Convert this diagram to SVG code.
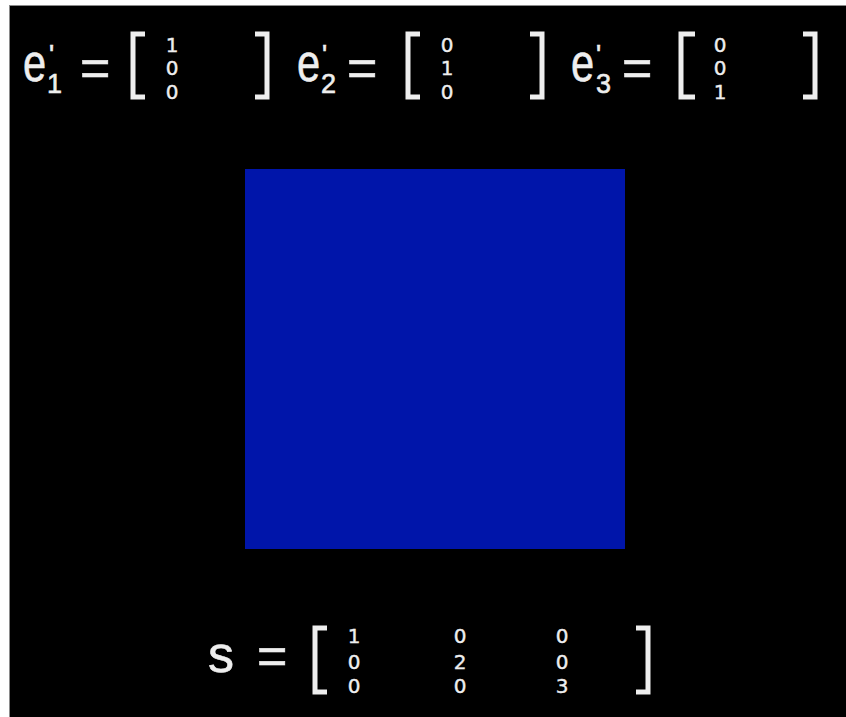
<svg xmlns="http://www.w3.org/2000/svg" width="846" height="717" viewBox="0 0 846 717">
<style>
.t{font-family:"Liberation Sans","DejaVu Sans",Arial,sans-serif;fill:#eeeeee;stroke:#eeeeee;stroke-width:0.6}
.big{font-size:52px}
.sub{font-size:27px}
.d{font-family:"DejaVu Sans","Liberation Sans",sans-serif;font-size:20px;text-anchor:middle;stroke-width:0.4}
.br{fill:none;stroke:#eeeeee;stroke-width:5;stroke-linecap:butt}
</style>
<rect x="0" y="0" width="846" height="717" fill="#ffffff"/>
<rect x="9.5" y="5.5" width="840" height="715" fill="#000000" stroke="#8a8a8a" stroke-width="1"/>
<g id="square"><rect x="245" y="169" width="380" height="380" fill="#0015aa"/></g>

<g id="e1">
<text class="t big" x="23" y="81" transform="translate(23 0) scale(0.8 1) translate(-23 0)">e</text>
<text class="t sub" x="49" y="64">'</text>
<text class="t sub" x="47" y="93">1</text>
<text class="t big" x="80" y="86">=</text>
<path class="br" d="M145,34 H133 V97 H145"/>
<text class="t d" x="172" y="52">1</text>
<text class="t d" x="172" y="75">0</text>
<text class="t d" x="172" y="99">0</text>
<path class="br" d="M255,34 H267 V97 H255"/>
</g>

<g id="e2">
<text class="t big" x="297" y="81" transform="translate(297 0) scale(0.8 1) translate(-297 0)">e</text>
<text class="t sub" x="322" y="64">'</text>
<text class="t sub" x="321" y="93">2</text>
<text class="t big" x="347" y="86">=</text>
<path class="br" d="M420,34 H408 V97 H420"/>
<text class="t d" x="447" y="52">0</text>
<text class="t d" x="447" y="75">1</text>
<text class="t d" x="447" y="99">0</text>
<path class="br" d="M530,34 H542 V97 H530"/>
</g>

<g id="e3">
<text class="t big" x="571" y="81" transform="translate(571 0) scale(0.8 1) translate(-571 0)">e</text>
<text class="t sub" x="596" y="64">'</text>
<text class="t sub" x="596" y="93">3</text>
<text class="t big" x="622" y="86">=</text>
<path class="br" d="M695,34 H681 V97 H695"/>
<text class="t d" x="720" y="52">0</text>
<text class="t d" x="720" y="75">0</text>
<text class="t d" x="720" y="99">1</text>
<path class="br" d="M803,34 H815 V97 H803"/>
</g>

<g id="s">
<text class="t big" x="208" y="672">s</text>
<text class="t big" x="257" y="674">=</text>
<path class="br" d="M327,628 H315 V692 H327"/>
<text class="t d" x="354" y="643">1</text>
<text class="t d" x="354" y="669">0</text>
<text class="t d" x="354" y="693">0</text>
<text class="t d" x="460" y="643">0</text>
<text class="t d" x="460" y="669">2</text>
<text class="t d" x="460" y="693">0</text>
<text class="t d" x="562" y="643">0</text>
<text class="t d" x="562" y="669">0</text>
<text class="t d" x="562" y="693">3</text>
<path class="br" d="M636,628 H648 V692 H636"/>
</g>
<g id="connectors"/>
</svg>
